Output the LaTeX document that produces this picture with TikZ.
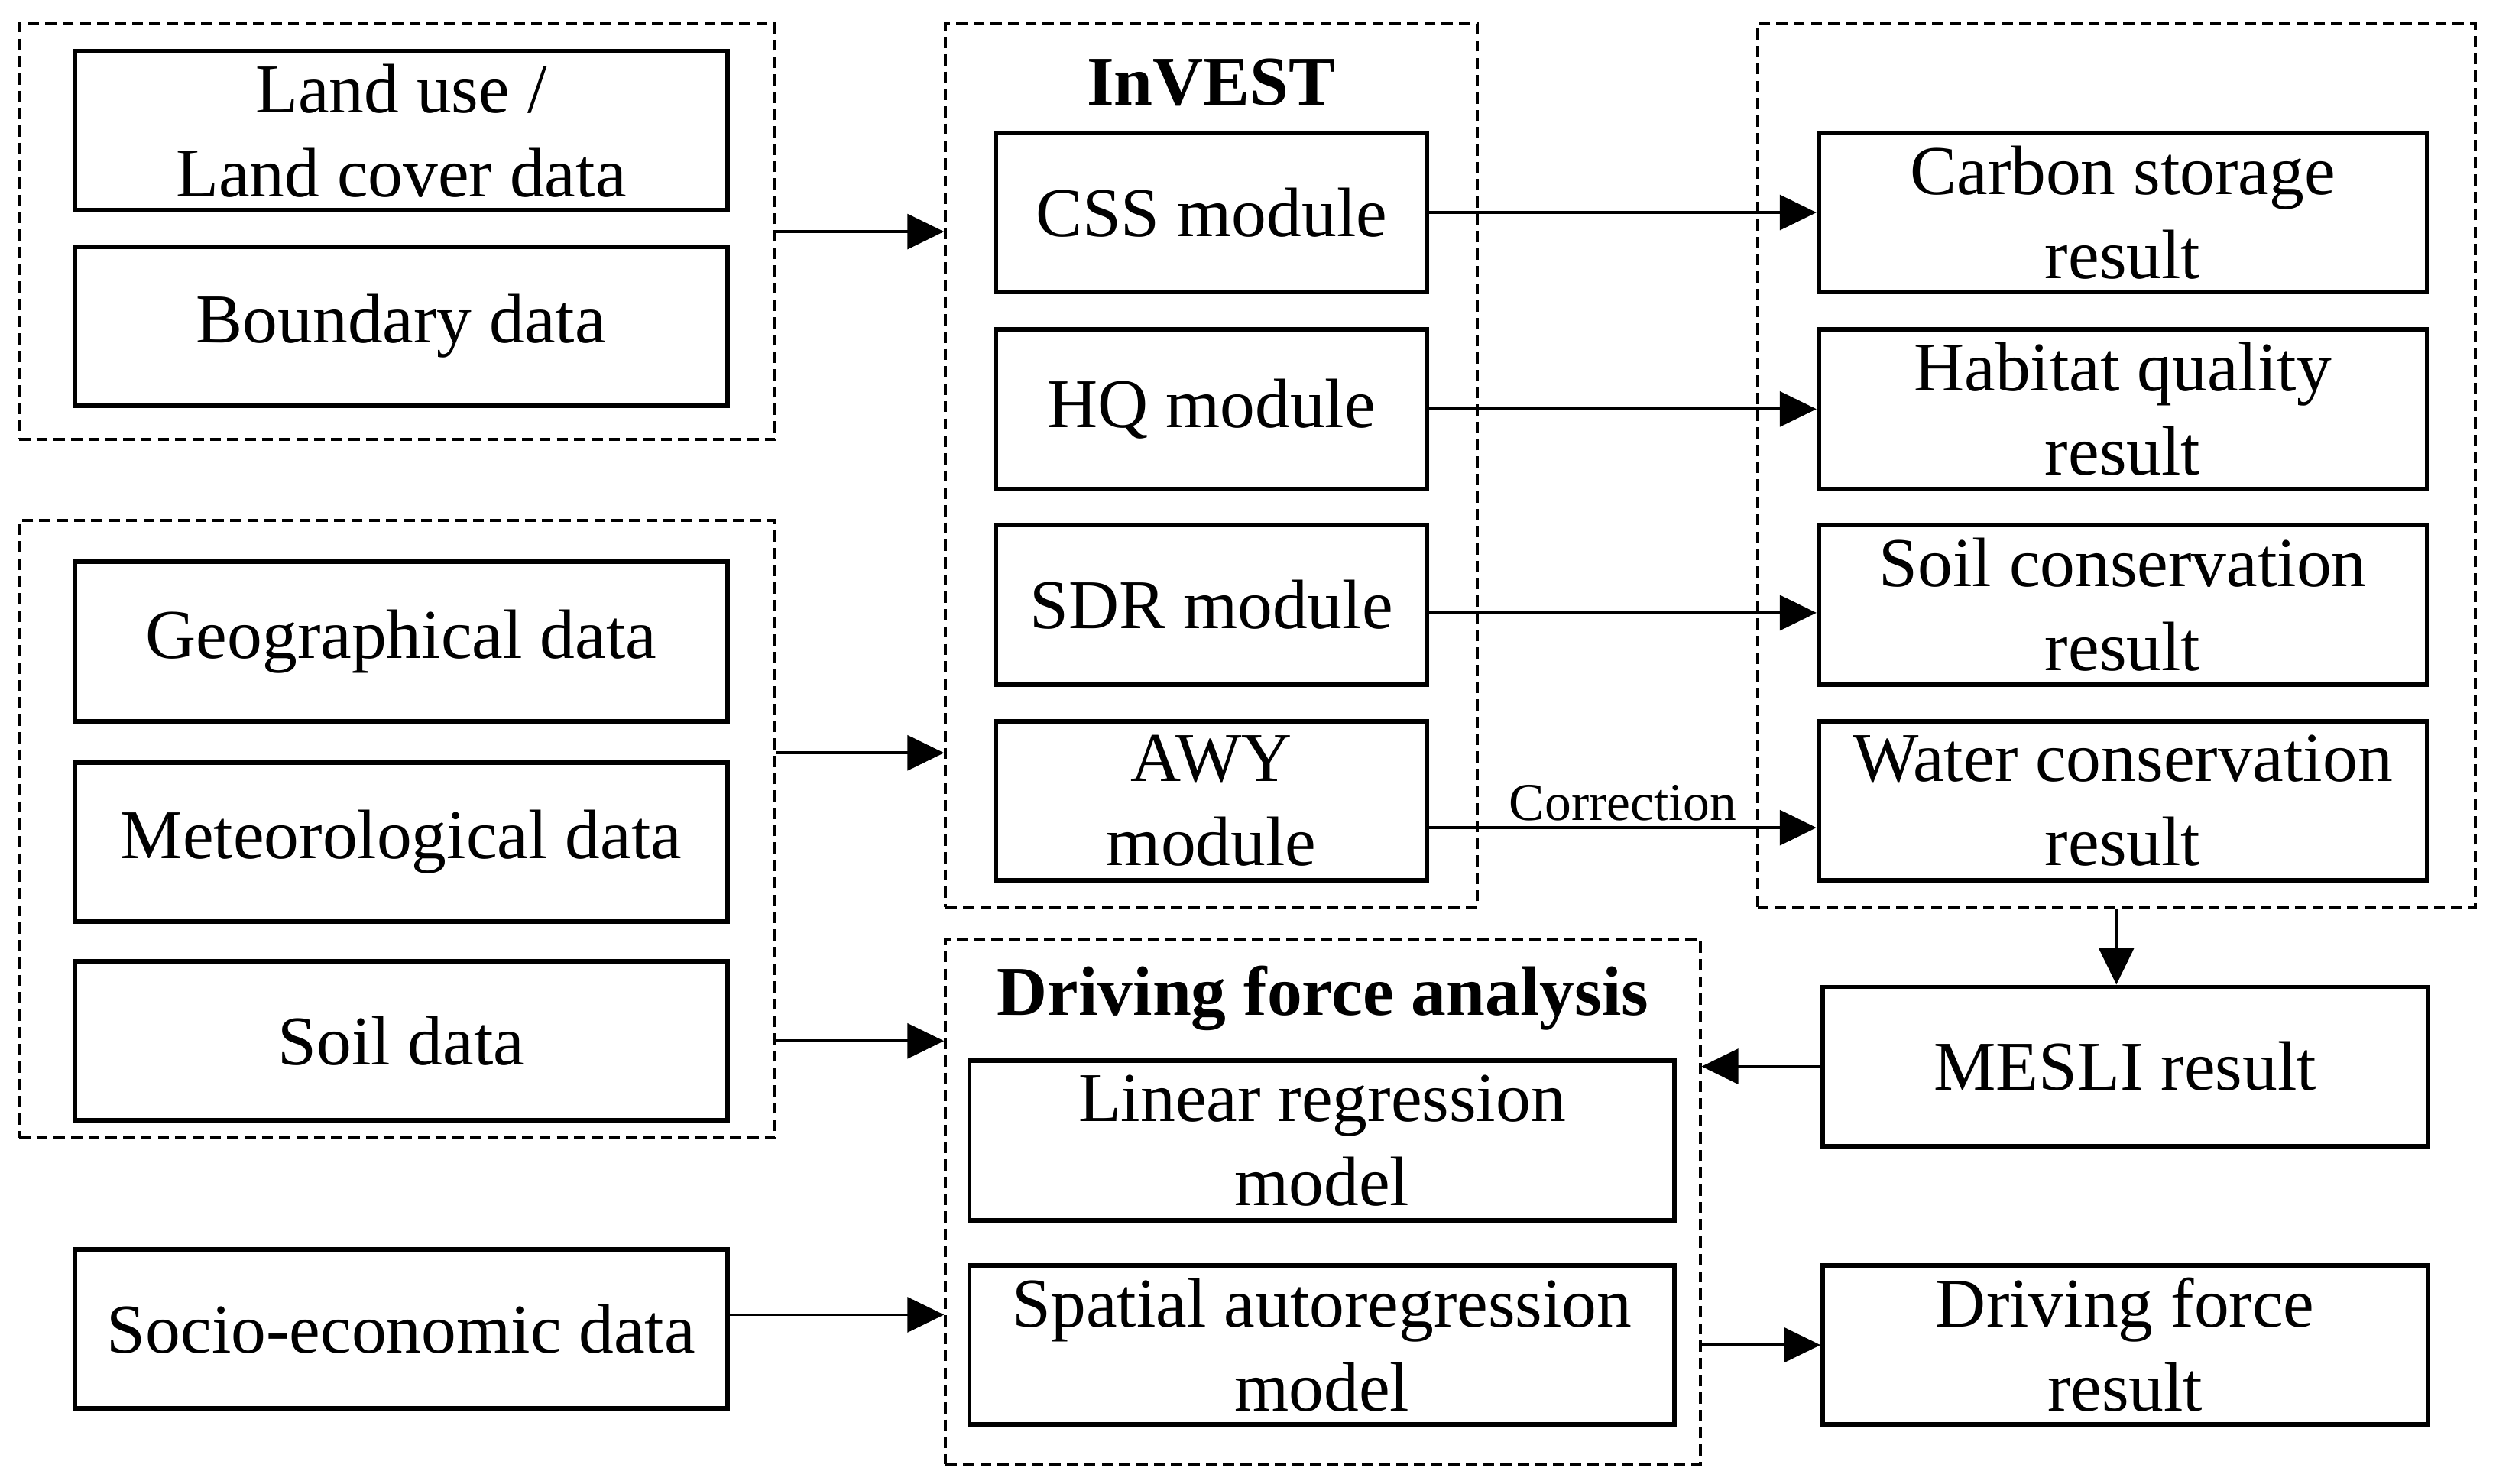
\documentclass[tikz,border=0pt]{standalone}
\usepackage{fontspec}
\setmainfont{Liberation Serif}
\usetikzlibrary{arrows.meta}
\begin{document}
\begin{tikzpicture}[
  font=\fontsize{12.5}{15}\selectfont,
  box/.style={draw, line width=0.8pt, minimum height=1cm, inner sep=0pt, align=center},
  group/.style={draw, line width=0.55pt, dash pattern=on 2pt off 1.1pt, inner sep=0pt},
  arr/.style={-{Triangle[length=0.23cm,width=0.22cm]}, line width=0.5pt}
]
\useasboundingbox (0,0) rectangle (15.68,-9.32);

\def \wa{4.10};
\def \wb{2.71};
\def \wc{3.82};

% input data
\node [group, minimum width=4.75cm, minimum height=2.61cm] (g1) at (2.495,-1.455) {};
\node [box, minimum width=\wa cm] (lu) at (2.52,-0.82) {Land use /\\Land cover data};
\node [box, minimum width=\wa cm] (bd) at (2.52,-2.05) {Boundary data};

\node [group, minimum width=4.75cm, minimum height=3.88cm] (g2) at (2.495,-5.21) {};
\node [box, minimum width=\wa cm] (geo) at (2.52,-4.03) {Geographical data};
\node [box, minimum width=\wa cm] (met) at (2.52,-5.29) {Meteorological data};
\node [box, minimum width=\wa cm] (soil) at (2.52,-6.54) {Soil data};

\node [box, minimum width=\wa cm] (soc) at (2.52,-8.35) {Socio-economic data};

% InVEST
\node [group, minimum width=3.34cm, minimum height=5.55cm] (inv) at (7.61,-2.925) {};
\node [font=\fontsize{12.5}{15}\selectfont\bfseries] (invt) at (7.61,-0.52) {InVEST};
\node [box, minimum width=\wb cm] (css) at (7.61,-1.335) {CSS module};
\node [box, minimum width=\wb cm] (hq) at (7.61,-2.57) {HQ module};
\node [box, minimum width=\wb cm] (sdr) at (7.61,-3.80) {SDR module};
\node [box, minimum width=\wb cm] (awy) at (7.61,-5.03) {AWY\\module};

% results
\node [group, minimum width=4.51cm, minimum height=5.55cm] (res) at (13.295,-2.925) {};
\node [box, minimum width=\wc cm] (cs) at (13.335,-1.335) {Carbon storage\\result};
\node [box, minimum width=\wc cm] (hqr) at (13.335,-2.57) {Habitat quality\\result};
\node [box, minimum width=\wc cm] (scr) at (13.335,-3.80) {Soil conservation\\result};
\node [box, minimum width=\wc cm] (wcr) at (13.335,-5.03) {Water conservation\\result};

\node [box, minimum width=3.80cm] (mesli) at (13.35,-6.70) {MESLI result};

% driving force analysis
\node [group, minimum width=4.74cm, minimum height=3.30cm] (drv) at (8.31,-7.55) {};
\node [font=\fontsize{12.5}{15}\selectfont\bfseries] (drvt) at (8.31,-6.27) {Driving force analysis};
\node [box, minimum width=4.43cm] (lin) at (8.305,-7.165) {Linear regression\\model};
\node [box, minimum width=4.43cm] (sar) at (8.305,-8.45) {Spatial autoregression\\model};

\node [box, minimum width=3.80cm] (dfr) at (13.35,-8.45) {Driving force\\result};

\coordinate (a2) at (0,-4.73);
\coordinate (a3) at (0,-8.26);
\coordinate (a4) at (0,-3.85);
\coordinate (a5) at (0,-5.20);

\draw [arr] (g1.east) -- (g1.east -| inv.west);
\draw [arr] (g2.east |- a2) -- (inv.west |- a2);
\draw [arr] (g2.east |- soil) -- (drv.west |- soil);
\draw [arr] (soc.east |- a3) -- (drv.west |- a3);

\draw [arr] (css.east) -- (cs.west);
\draw [arr] (hq.east) -- (hqr.west);
\draw [arr] (sdr.east |- a4) -- (scr.west |- a4);
\draw [arr] (awy.east |- a5) -- node[above, font=\fontsize{9.5}{11}\selectfont, inner sep=1pt] (corr) {Correction} (wcr.west |- a5);

\draw [arr] (res.south) -- (res.south |- mesli.north);
\draw [arr] (mesli.west) -- (mesli.west -| drv.east);
\draw [arr] (dfr.west -| drv.east) -- (dfr.west);
\end{tikzpicture}
\end{document}
